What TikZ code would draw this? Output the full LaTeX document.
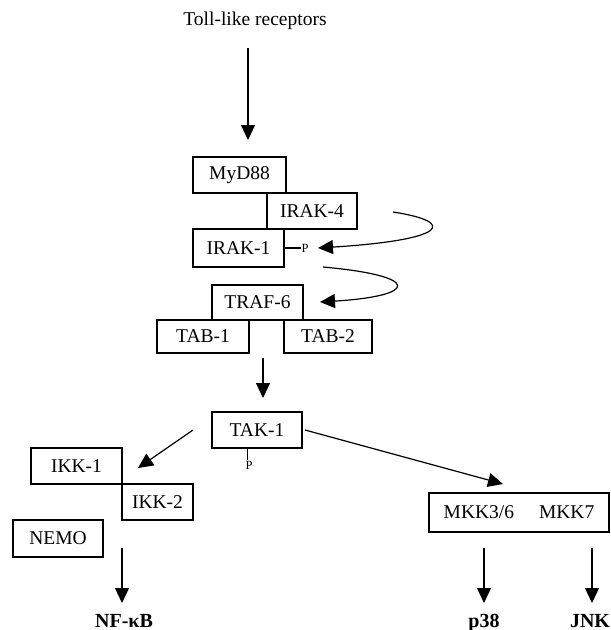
\documentclass[tikz,border=0pt]{standalone}
\usepackage{fontspec}
\setmainfont{Liberation Serif}
\usetikzlibrary{arrows.meta}
\begin{document}
\begin{tikzpicture}[x=1pt,y=-1pt,
  box/.style={draw, line width=1.2pt, inner sep=0pt, font=\fontsize{19.5}{22}\selectfont},
  arr/.style={line width=1.2pt, -{Triangle[length=15pt,width=14pt]}},
  pmark/.style={inner sep=0pt, font=\fontsize{12.5}{13}\selectfont},
  lab/.style={inner sep=0pt, anchor=base, font=\fontsize{20}{22}\selectfont\bfseries}]
\useasboundingbox (0,0) rectangle (611,630);
\node[inner sep=0pt, anchor=base, font=\fontsize{19.5}{22}\selectfont] (tlr) at (255,25) {Toll-like receptors};
\coordinate (a0) at (248,48);
\coordinate (a1) at (248,140);
\draw[arr] (a0) -- (a1);
\node[box, minimum width=93pt, minimum height=36pt] (myd) at (239.5,175) {MyD88};
\node[box, minimum width=90pt, minimum height=36pt] (irak4) at (312,211) {IRAK-4};
\node[box, minimum width=91pt, minimum height=38pt] (irak1) at (238.5,248) {IRAK-1};
\node[pmark] (p1) at (305,248) {P};
\draw[line width=1.1pt] (irak1.east) -- (p1.west);
\coordinate (c1s) at (393,212);
\coordinate (c1e) at (318,248);
\draw[arr] (c1s) .. controls (458,222) and (447,240) .. (c1e);
\node[box, minimum width=91pt, minimum height=35pt] (traf) at (257.5,302.5) {TRAF-6};
\node[box, minimum width=92pt, minimum height=33pt] (tab1) at (203,336.5) {TAB-1};
\node[box, minimum width=88pt, minimum height=33pt] (tab2) at (328,336.5) {TAB-2};
\coordinate (c2s) at (323,267);
\coordinate (c2e) at (320,302);
\draw[arr] (c2s) .. controls (423,276) and (418,296) .. (c2e);
\coordinate (b0) at (263,358);
\coordinate (b1) at (263,398);
\draw[arr] (b0) -- (b1);
\node[box, minimum width=90pt, minimum height=36pt] (tak) at (257,430) {TAK-1};
\node[pmark] (p2) at (249,465) {P};
\coordinate (pt0) at (247.5,448);
\coordinate (pt1) at (247.5,460);
\draw[line width=1.1pt] (pt0) -- (pt1);
\node[box, minimum width=91pt, minimum height=36pt] (ikk1) at (76.5,466) {IKK-1};
\node[box, minimum width=71pt, minimum height=36pt] (ikk2) at (157.5,502) {IKK-2};
\node[box, minimum width=90pt, minimum height=37pt] (nemo) at (58,538.5) {NEMO};
\coordinate (d0) at (193,430);
\coordinate (d1) at (138,468);
\draw[arr] (d0) -- (d1);
\coordinate (e0) at (305,430);
\coordinate (e1) at (503,484);
\draw[arr] (e0) -- (e1);
\node[box, minimum width=180pt, minimum height=39pt] (mkk) at (519,512.5) {MKK3/6\hspace{25pt}MKK7};
\node[lab] (nfkb) at (124,627) {NF-κB};
\node[lab] (p38) at (484,627) {p38};
\node[lab] (jnk) at (590,627) {JNK};
\coordinate (f0) at (122,548);
\coordinate (f1) at (122,603);
\draw[arr] (f0) -- (f1);
\coordinate (g0) at (484,548);
\coordinate (g1) at (484,603);
\draw[arr] (g0) -- (g1);
\coordinate (h0) at (592,548);
\coordinate (h1) at (592,603);
\draw[arr] (h0) -- (h1);
\end{tikzpicture}
\end{document}
